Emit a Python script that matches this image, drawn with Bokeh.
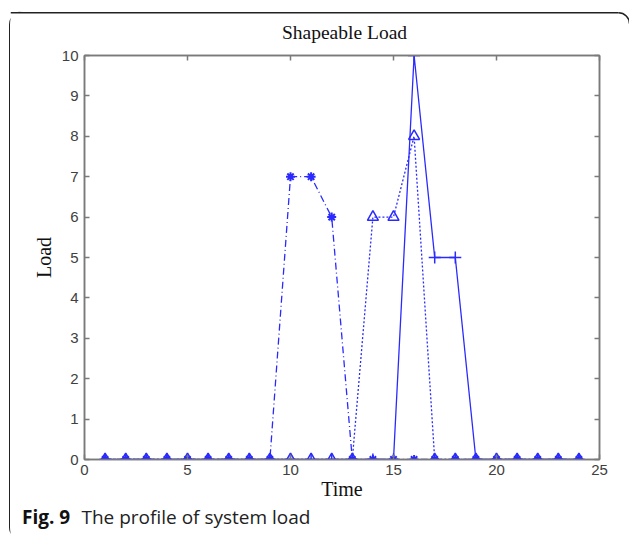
import math
from bokeh.plotting import figure
from bokeh.layouts import column
from bokeh.models import Range1d, LinearAxis, FixedTicker, CustomJSTickFormatter
from bokeh.core.properties import value
from bokeh.embed import file_html
from bokeh.resources import INLINE

# ---- data ----
time = list(range(1, 25))
series_dashdot = [0, 0, 0, 0, 0, 0, 0, 0, 0, 7, 7, 6, 0, 0, 0, 0, 0, 0, 0, 0, 0, 0, 0, 0]
series_dotted = [0, 0, 0, 0, 0, 0, 0, 0, 0, 0, 0, 0, 0, 6, 6, 8, 0, 0, 0, 0, 0, 0, 0, 0]
series_solid = [0, 0, 0, 0, 0, 0, 0, 0, 0, 0, 0, 0, 0, 0, 0, 10, 5, 5, 0, 0, 0, 0, 0, 0]
x_ticks = [0, 5, 10, 15, 20, 25]
y_ticks = list(range(0, 11))

title_text = "Shapeable Load"
x_label = "Time"
y_label = "Load"
caption_bold = "Fig. 9"
caption_text = "The profile of system load"

BLUE = "#2a2aff"
GRAY = "#7a7a7a"
TICKCOL = "#404040"
BORDER = "#222222"
W = 619


def strip(height):
    f = figure(width=W, height=height, output_backend="svg", toolbar_location=None,
               x_range=Range1d(0, W), y_range=Range1d(0, height),
               x_axis_location=None, y_axis_location=None, title=None,
               min_border=0, min_border_left=0, min_border_right=0, min_border_top=0, min_border_bottom=0)
    f.frame_align = False
    f.grid.visible = False
    f.outline_line_color = None
    f.background_fill_color = "white"
    f.border_fill_color = "white"
    return f


# ---- top strip: box top edge and title ----
TH = 36
top = strip(TH)
top.line([0, W - 11], [TH - 1.25, TH - 1.25], line_color=BORDER, line_width=1.5)
top.arc(x=[W - 11], y=[TH - 12.25], radius=11, start_angle=0, end_angle=math.pi / 2,
        line_color=BORDER, line_width=1.5)
top.text(x=[334], y=[15], text=[title_text], text_font=value("Liberation Serif"),
         text_font_size="19.5px", text_color="#111111", text_align="center", text_baseline="alphabetic")

# ---- main chart ----
p = figure(width=W, height=457, output_backend="svg", toolbar_location=None, title=None,
           x_range=Range1d(0, 25), y_range=Range1d(0, 10),
           min_border_left=74, min_border_right=30, min_border_top=8, min_border_bottom=45)
p.frame_align = False
p.background_fill_color = "white"
p.border_fill_color = "white"
p.grid.visible = False
p.outline_line_color = GRAY
p.outline_line_width = 1.5

for ax in (p.xaxis[0], p.yaxis[0]):
    ax.major_label_text_font = "Liberation Sans"
    ax.major_label_text_font_size = "15px"
    ax.major_label_text_color = TICKCOL
    ax.axis_line_color = GRAY
    ax.axis_line_width = 1.5
    ax.major_tick_in = 5
    ax.major_tick_out = 0
    ax.major_tick_line_color = GRAY
    ax.major_tick_line_width = 1.5
    ax.minor_tick_line_color = None
    ax.axis_label_text_font = "Liberation Serif"
    ax.axis_label_text_font_style = "normal"
    ax.axis_label_text_font_size = "20px"
    ax.axis_label_text_color = "#111111"

p.xaxis[0].ticker = FixedTicker(ticks=x_ticks)
p.yaxis[0].ticker = FixedTicker(ticks=y_ticks)
p.xaxis[0].axis_label = x_label
p.yaxis[0].axis_label = y_label
p.xaxis[0].major_label_standoff = 5
p.yaxis[0].major_label_standoff = 6
p.xaxis[0].axis_label_standoff = 0
p.yaxis[0].axis_label_standoff = 4

top_ax = LinearAxis(ticker=FixedTicker(ticks=x_ticks), formatter=CustomJSTickFormatter(code="return ''"),
                    major_label_standoff=0, major_tick_in=5, major_tick_out=0,
                    major_tick_line_color=GRAY, major_tick_line_width=1.5,
                    axis_line_color=GRAY, axis_line_width=1.5, minor_tick_line_color=None)
right_ax = LinearAxis(ticker=FixedTicker(ticks=y_ticks), formatter=CustomJSTickFormatter(code="return ''"),
                      major_label_standoff=0, major_tick_in=5, major_tick_out=0,
                      major_tick_line_color=GRAY, major_tick_line_width=1.5,
                      axis_line_color=GRAY, axis_line_width=1.5, minor_tick_line_color=None)
p.add_layout(top_ax, "above")
p.add_layout(right_ax, "right")

p.line(time, series_dashdot, line_color=BLUE, line_width=1.3, line_dash="7 3 1 3")
p.scatter(time, series_dashdot, marker="asterisk", size=9, line_color=BLUE, line_width=2)
p.line(time, series_dotted, line_color=BLUE, line_width=1.3, line_dash="2 2")
p.scatter(time, series_dotted, marker="triangle", size=11, fill_color=None, line_color=BLUE, line_width=1.5)
p.line(time, series_solid, line_color=BLUE, line_width=1.3)
p.scatter(time, series_solid, marker="cross", size=12, line_color=BLUE, line_width=1.5)

# ---- caption strip ----
CH = 37
cap = strip(CH)
cap.text(x=[11.5], y=[CH - 12.5], text=[caption_bold], text_font=value("Open Sans"), text_font_style="bold",
         text_font_size="19px", text_color="#111111", text_baseline="alphabetic", text_align="left")
cap.text(x=[71], y=[CH - 12.5], text=[caption_text], text_font=value("Open Sans"),
         text_font_size="19px", text_color="#222222", text_baseline="alphabetic", text_align="left")

layout = column(top, p, cap, spacing=0,
                styles={"margin-left": "9px", "margin-top": "11px",
                        "border-left": "1.5px solid #222222",
                        "border-top-left-radius": "14px", "border-bottom-left-radius": "14px",
                        "background": "white"})

open("out.html", "w").write(file_html(layout, INLINE))
